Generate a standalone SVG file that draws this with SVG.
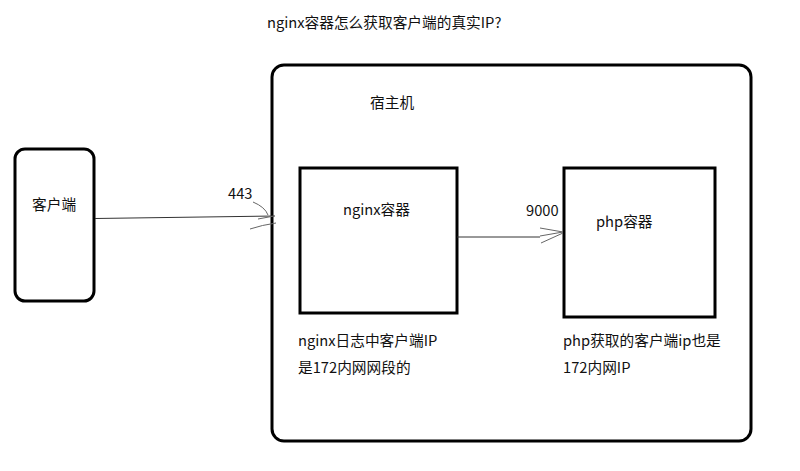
<svg xmlns="http://www.w3.org/2000/svg" width="800" height="471" viewBox="0 0 800 471">
<style>
.box{fill:none;stroke:#000;stroke-width:3}
.t{font-family:"Noto Sans CJK SC","Liberation Sans",sans-serif;font-size:14.7px;fill:#111}
.ln{fill:none;stroke:#333;stroke-width:1}
.ah{fill:none;stroke:#666;stroke-width:1}
</style>
<rect width="800" height="471" fill="#fff"/>
<text class="t" x="267" y="28">nginx容器怎么获取客户端的真实IP?</text>
<g id="host">
<rect class="box" x="272" y="65" width="479" height="376" rx="12"/>
<text class="t" x="370" y="108">宿主机</text>
</g>
<g id="client">
<rect class="box" x="15" y="149" width="79" height="152" rx="10"/>
<text class="t" x="32" y="210">客户端</text>
</g>
<g id="nginx">
<rect class="box" x="300" y="168" width="157" height="145"/>
<text class="t" x="343" y="215">nginx容器</text>
<text class="t" x="298" y="346">nginx日志中客户端IP</text>
<text class="t" x="298" y="373">是172内网网段的</text>
</g>
<g id="php">
<rect class="box" x="564" y="168" width="151" height="149"/>
<text class="t" x="596" y="227">php容器</text>
<text class="t" x="563" y="346">php获取的客户端ip也是</text>
<text class="t" x="563" y="373">172内网IP</text>
</g>
<g id="connectors">
<path class="ln" d="M95,218.5 L275,216"/>
<path class="ah" d="M253,202 Q265,207 268,215 M258,219 L274,216 M250,229 Q262,225 276,223"/>
<text class="t" x="228" y="199">443</text>
<path class="ln" d="M457,237 L540,237"/>
<path class="ah" d="M540,228 L563,232 M540,236 L563,232 M541,243 L563,233"/>
<text class="t" x="526" y="216">9000</text>
</g>
</svg>
